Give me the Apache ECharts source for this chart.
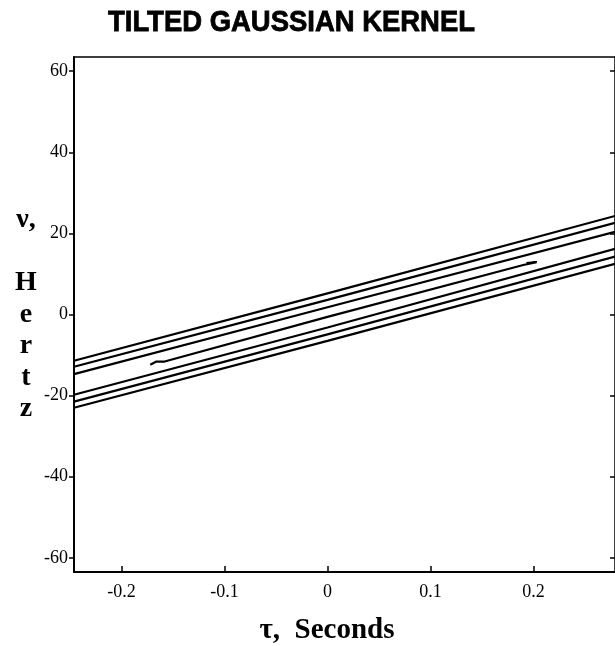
<!DOCTYPE html>
<html><head><meta charset="utf-8">
<script src="https://cdn.jsdelivr.net/npm/echarts@6/dist/echarts.min.js"></script>
<style>html,body{margin:0;padding:0;background:#fff}#c{width:615px;height:646px}</style>
</head><body><div id="c"></div>
<script>
// Tick values
const xTicks = [-0.2, -0.1, 0, 0.1, 0.2];
const yTicks = [-60, -40, -20, 0, 20, 40, 60];
// Axis ranges (read from frame positions)
const xRange = [-0.246, 0.279];
const yRange = [-63.5, 63.5];
// Contour lines: [tau, nu] pairs
const upperBand1 = [[-0.246, -11.4], [0.0, 5.2], [0.279, 24.3]];
const upperBand2 = [[-0.246, -12.9], [0.0, 3.6], [0.279, 22.6]];
const upperBand3 = [[-0.246, -14.7], [0.0, 1.8], [0.279, 20.4]];
const lowerBand1 = [[-0.246, -19.8], [0.0, -3.2], [0.279, 16.2]];
const lowerBand2 = [[-0.246, -21.5], [0.0, -4.9], [0.279, 14.3]];
const lowerBand3 = [[-0.246, -23.0], [0.0, -6.5], [0.279, 12.5]];
const centerLine = [[-0.172, -12.4], [-0.166, -11.6], [-0.158, -11.6], [0.0, -0.6], [0.190, 12.2], [0.203, 12.9], [0.193, 12.7]];

const lines = [upperBand1, upperBand2, upperBand3, lowerBand1, lowerBand2, lowerBand3, centerLine];

const chart = echarts.init(document.getElementById('c'), null, {renderer: 'canvas'});
const serif = '"Liberation Serif", "Times New Roman", serif';
const fmt = v => (Math.abs(v) < 1e-9 ? '0' : String(v));

chart.setOption({
  animation: false,
  backgroundColor: '#fff',
  grid: {left: 74, right: -3, top: 57, bottom: 74},
  xAxis: [{
    type: 'value', min: xRange[0], max: xRange[1], position: 'bottom',
    splitLine: {show: false},
    axisLine: {show: true, onZero: false, lineStyle: {color: '#000', width: 2}},
    axisTick: {show: true, inside: true, length: 6, customValues: xTicks, lineStyle: {color: '#000', width: 1.5}},
    axisLabel: {customValues: xTicks, formatter: fmt, margin: 11, color: '#000', fontFamily: serif, fontSize: 18}
  }, {
    type: 'value', min: xRange[0], max: xRange[1], position: 'top',
    splitLine: {show: false},
    axisLine: {show: true, onZero: false, lineStyle: {color: '#000', width: 1.5}},
    axisTick: {show: false}, axisLabel: {show: false}
  }],
  yAxis: [{
    type: 'value', min: yRange[0], max: yRange[1], position: 'left',
    splitLine: {show: false},
    axisLine: {show: true, onZero: false, lineStyle: {color: '#000', width: 2}},
    axisTick: {show: true, inside: false, length: 5, customValues: yTicks, lineStyle: {color: '#000', width: 1.5}},
    axisLabel: {customValues: yTicks, formatter: fmt, margin: 6, color: '#000', fontFamily: serif, fontSize: 18},
    name: 'ν,\n\nH\ne\nr\nt\nz', nameLocation: 'middle', nameRotate: 0, nameGap: 48,
    nameTextStyle: {fontFamily: serif, fontWeight: 'bold', fontSize: 28, lineHeight: 31.5, color: '#000', align: 'center', verticalAlign: 'middle'}
  }, {
    type: 'value', min: yRange[0], max: yRange[1], position: 'right',
    splitLine: {show: false},
    axisLine: {show: true, onZero: false, lineStyle: {color: '#000', width: 1.5}},
    axisTick: {show: true, inside: true, length: 5, customValues: yTicks, lineStyle: {color: '#000', width: 1.5}},
    axisLabel: {show: false}
  }],
  graphic: [{
    type: 'text', x: 291.5, y: 22.5, scaleX: 0.915, originX: 0, originY: 0,
    style: {text: 'TILTED GAUSSIAN KERNEL', font: 'bold 30px "Liberation Sans", Arial, sans-serif',
      fill: '#000', stroke: '#000', lineWidth: 0.8, align: 'center', verticalAlign: 'middle'}
  }, {
    type: 'text', x: 327, y: 631,
    style: {text: 'τ,  Seconds', font: 'bold 29px ' + serif, fill: '#000', align: 'center', verticalAlign: 'middle'}
  }],
  series: lines.map(d => ({
    type: 'line', data: d, xAxisIndex: 0, yAxisIndex: 0,
    symbol: 'none', clip: true,
    lineStyle: {color: '#000', width: 2.2}
  }))
});
</script></body></html>
